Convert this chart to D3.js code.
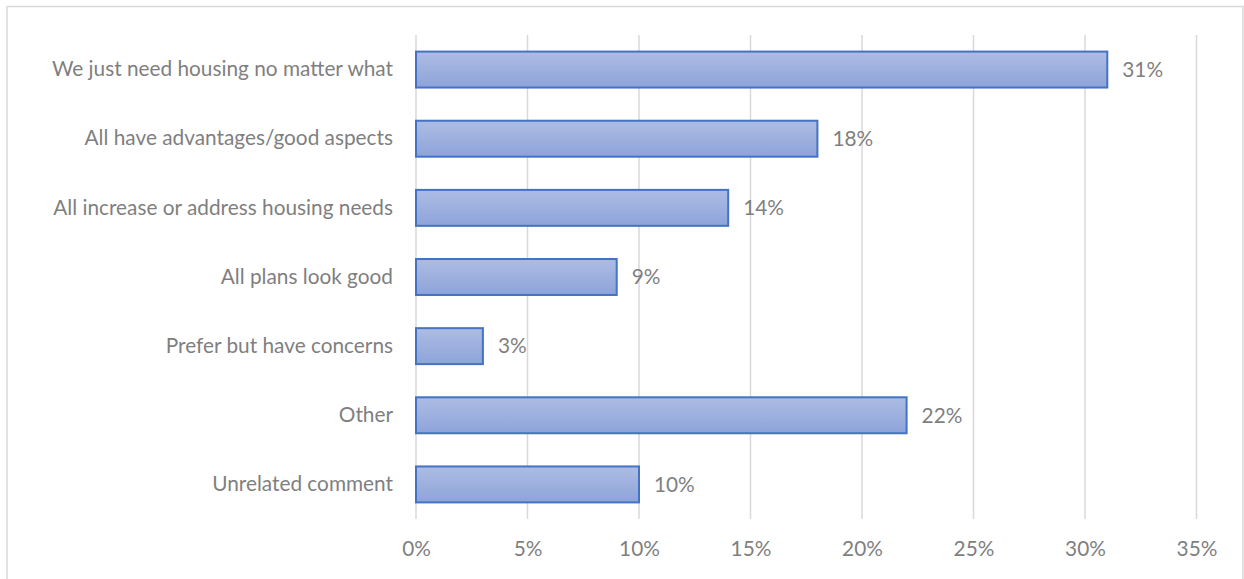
<!DOCTYPE html>
<html>
<head>
<meta charset="utf-8">
<script src="https://cdn.jsdelivr.net/npm/d3@7"></script>
<style>
  html, body { margin: 0; padding: 0; background: #fff; }
  svg { display: block; }
  text { font-family: Lato, "Open Sans", sans-serif; fill: #7f7f7f; }
</style>
</head>
<body>
<svg id="chart" width="1244" height="579"></svg>
<script>
// Responses: share of comments per theme
const categories = [
  "We just need housing no matter what",
  "All have advantages/good aspects",
  "All increase or address housing needs",
  "All plans look good",
  "Prefer but have concerns",
  "Other",
  "Unrelated comment"
];
const values = [31, 18, 14, 9, 3, 22, 10];
const tickValues = [0, 5, 10, 15, 20, 25, 30, 35];

const svg = d3.select("#chart");
const W = 1244, H = 579;
const FONT = "20.8px";

// chart frame
svg.append("rect")
  .attr("x", 7).attr("y", 6.5)
  .attr("width", W - 8).attr("height", H + 20)
  .attr("fill", "#fff").attr("stroke", "#d9d9d9").attr("stroke-width", 1.5);

const plot = { left: 416, right: 1196.5, top: 35, bottom: 519 };

const x = d3.scaleLinear().domain([0, 35]).range([plot.left, plot.right]);
const y = d3.scaleBand().domain(categories).range([plot.top, plot.bottom]).paddingInner(0.48).paddingOuter(0.24);

// gradient fill for bars
const defs = svg.append("defs");
const grad = defs.append("linearGradient").attr("id", "barFill")
  .attr("x1", 0).attr("y1", 0).attr("x2", 0).attr("y2", 1);
grad.append("stop").attr("offset", "0%").attr("stop-color", "#adbce3");
grad.append("stop").attr("offset", "100%").attr("stop-color", "#8da4da");

// vertical gridlines
svg.append("g").selectAll("line").data(tickValues).join("line")
  .attr("x1", d => x(d)).attr("x2", d => x(d))
  .attr("y1", plot.top).attr("y2", plot.bottom)
  .attr("stroke", "#d9d9d9").attr("stroke-width", 1.5);

// x axis labels
const xAxis = d3.axisBottom(x).tickValues(tickValues).tickFormat(d => d + "%").tickSize(0).tickPadding(22);
const gx = svg.append("g").attr("transform", `translate(0,${plot.bottom})`).call(xAxis);
gx.select(".domain").remove();
gx.selectAll("text").style("font-size", FONT).style("font-family", "Lato, 'Open Sans', sans-serif").attr("fill", "#7f7f7f");

// y axis category labels
const yAxis = d3.axisLeft(y).tickSize(0).tickPadding(23);
const gy = svg.append("g").attr("transform", `translate(${plot.left},0)`).call(yAxis);
gy.select(".domain").remove();
gy.selectAll("text").style("font-size", FONT).style("font-family", "Lato, 'Open Sans', sans-serif").attr("fill", "#7f7f7f");

// bars
svg.append("g").selectAll("rect").data(values).join("rect")
  .attr("x", x(0))
  .attr("y", (d, i) => y(categories[i]))
  .attr("width", d => x(d) - x(0))
  .attr("height", y.bandwidth())
  .attr("fill", "url(#barFill)")
  .attr("stroke", "#4472c4").attr("stroke-width", 2);

// value labels
svg.append("g").selectAll("text").data(values).join("text")
  .attr("x", d => x(d) + 15)
  .attr("y", (d, i) => y(categories[i]) + y.bandwidth() / 2)
  .attr("dy", "0.35em")
  .style("font-size", FONT)
  .text(d => d + "%");
</script>
</body>
</html>
